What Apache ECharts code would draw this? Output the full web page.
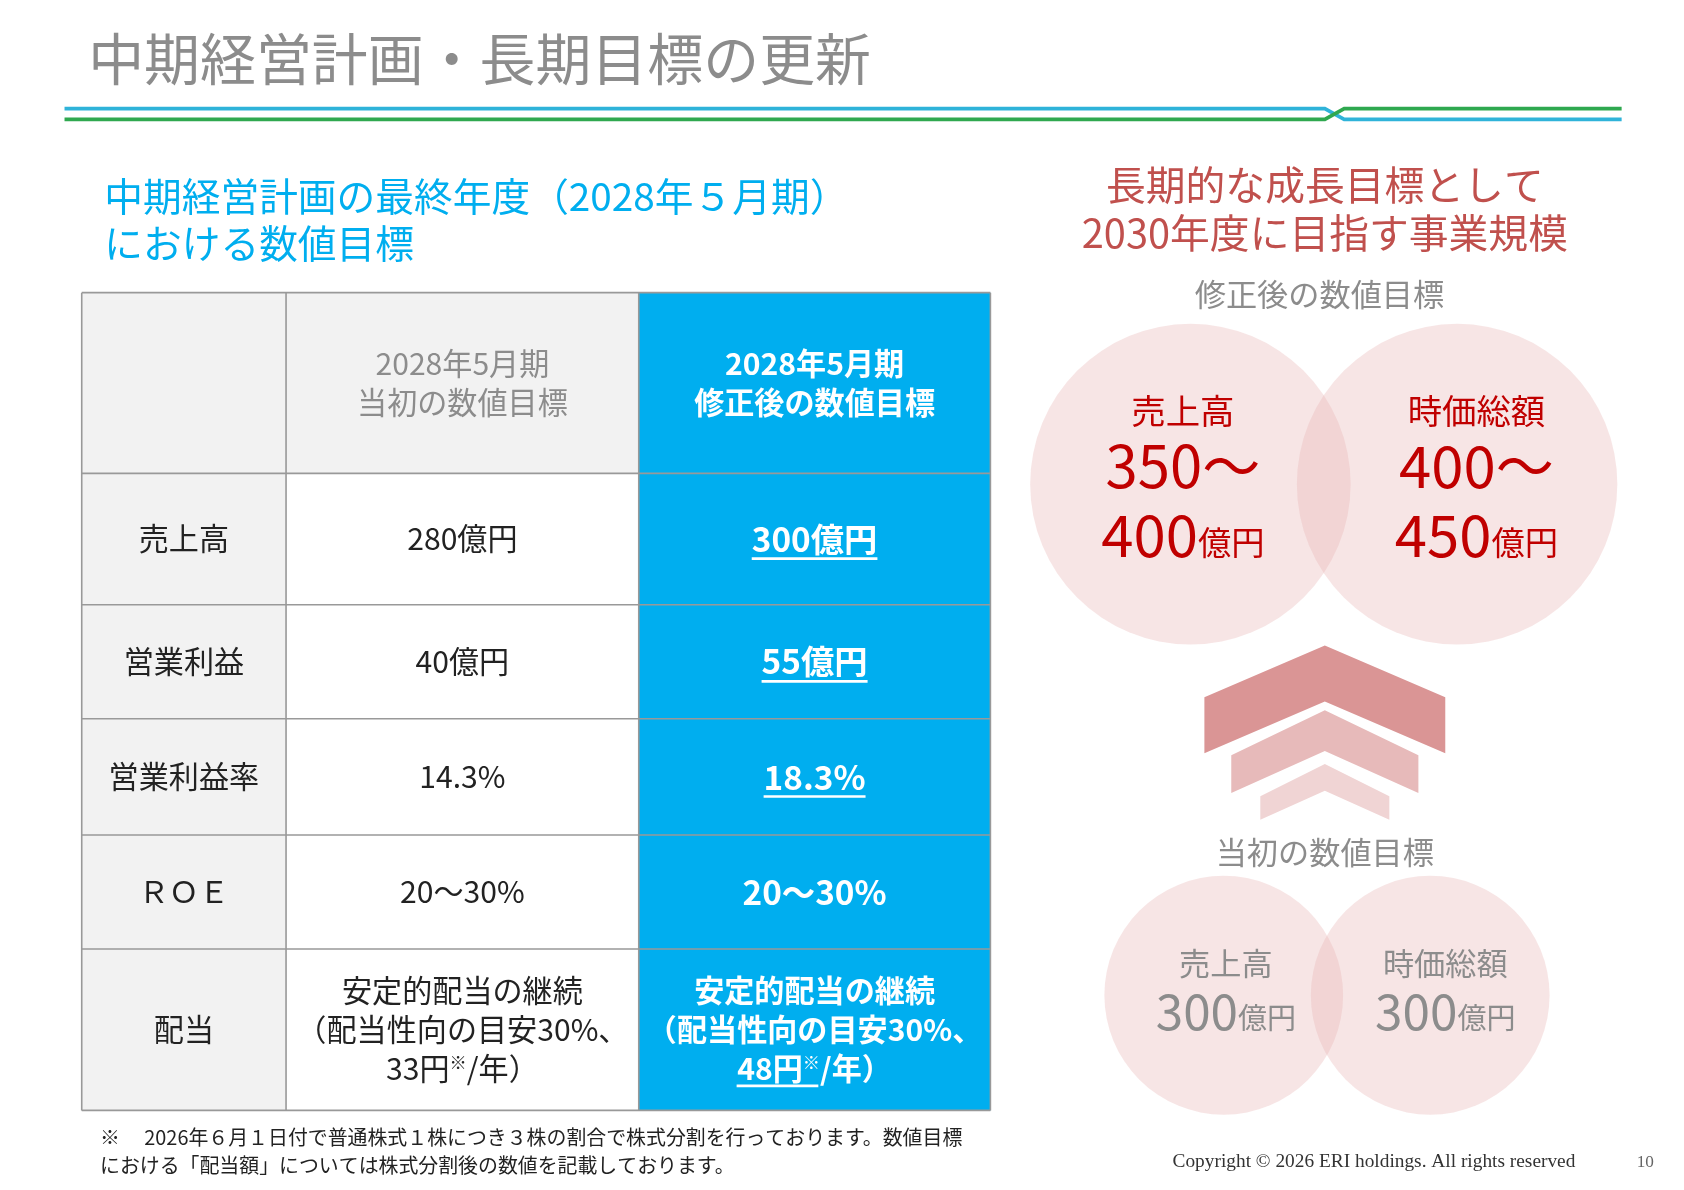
<!DOCTYPE html>
<html><head><meta charset="utf-8">
<script src="https://cdn.jsdelivr.net/npm/echarts@6/dist/echarts.min.js"></script>
<style>html,body{margin:0;padding:0;background:#fff}#c{width:1684px;height:1190px}</style>
</head><body><div id="c"></div>
<script>
// データ
var rowLabels = ['売上高', '営業利益', '営業利益率', 'ＲＯＥ', '配当'];
var initialTargets = ['280億円', '40億円', '14.3%', '20〜30%', ''];
var revisedTargets = ['300億円', '55億円', '18.3%', '20〜30%', ''];
var revisedUnderline = [true, true, true, false, false];
var colHeaders = ['2028年5月期\n当初の数値目標', '2028年5月期\n修正後の数値目標'];
var longTermLabels = ['売上高', '時価総額'];
var longTermFrom = ['350', '400'];
var longTermTo = ['400', '450'];
var initialLabels = ['売上高', '時価総額'];
var initialValues = ['300', '300'];

var F = '"Noto Sans CJK JP", "Noto Sans", sans-serif';
var BLUE = '#00aeef', RED = '#c00000', GRAY = '#8c8c8c', LINE = '#999999';

var cv = document.createElement('canvas').getContext('2d');
function tw(s, size, bold) { cv.font = (bold ? 'bold ' : '') + size + 'px ' + F; return cv.measureText(s).width; }

var colX = [76, 266, 594, 921];
var rowY = [272, 440, 562, 668, 776, 882, 1032];
var els = [];

function txt(x, y, s, size, color, opt) {
  opt = opt || {};
  els.push({ type: 'text', x: x, y: y, style: { text: s, font: (opt.bold ? 'bold ' : '') + size + 'px ' + F,
    fill: color, align: opt.align || 'center', verticalAlign: opt.va || 'middle', lineHeight: opt.lh, rich: opt.rich } });
}
function ul(cx, y, w, color) {
  els.push({ type: 'rect', shape: { x: cx - w / 2, y: y, width: w, height: 2.5 }, style: { fill: color } });
}

// タイトル
txt(82, 55, '中期経営計画・長期目標の更新', 52, GRAY, { align: 'left' });
els.push({ type: 'polyline', shape: { points: [[60, 101], [1232, 101], [1250, 111], [1508, 111]] }, style: { stroke: '#2fb3d9', lineWidth: 3.5, fill: null } });
els.push({ type: 'polyline', shape: { points: [[60, 111], [1232, 111], [1250, 101], [1508, 101]] }, style: { stroke: '#2fa84f', lineWidth: 3.5, fill: null } });

txt(97, 182, '中期経営計画の最終年度（2028年５月期）', 36, BLUE, { align: 'left' });
txt(97, 226, 'における数値目標', 36, BLUE, { align: 'left' });

// 表
els.push({ type: 'rect', shape: { x: colX[0], y: rowY[0], width: colX[1] - colX[0], height: rowY[6] - rowY[0] }, style: { fill: '#f2f2f2' } });
els.push({ type: 'rect', shape: { x: colX[1], y: rowY[0], width: colX[2] - colX[1], height: rowY[1] - rowY[0] }, style: { fill: '#f2f2f2' } });
els.push({ type: 'rect', shape: { x: colX[2], y: rowY[0], width: colX[3] - colX[2], height: rowY[6] - rowY[0] }, style: { fill: BLUE } });
rowY.forEach(function (y) { els.push({ type: 'line', shape: { x1: colX[0], y1: y, x2: colX[3], y2: y }, style: { stroke: LINE, lineWidth: 1.5 } }); });
colX.forEach(function (x) { els.push({ type: 'line', shape: { x1: x, y1: rowY[0], x2: x, y2: rowY[6] }, style: { stroke: LINE, lineWidth: 1.5 } }); });

var mid1 = (colX[1] + colX[2]) / 2, mid2 = (colX[2] + colX[3]) / 2, mid0 = (colX[0] + colX[1]) / 2;
txt(mid1, 356, colHeaders[0], 28, GRAY, { lh: 36 });
txt(mid2, 356, colHeaders[1], 28, '#fff', { lh: 36, bold: true });

rowLabels.forEach(function (lab, i) {
  var cy = (rowY[i + 1] + rowY[i + 2]) / 2;
  txt(mid0, cy, lab, 28, '#222');
  if (initialTargets[i]) txt(mid1, cy, initialTargets[i], 28, '#222');
  if (revisedTargets[i]) {
    txt(mid2, cy, revisedTargets[i], 31, '#fff', { bold: true });
    if (revisedUnderline[i]) ul(mid2, cy + 17, tw(revisedTargets[i], 31, true), '#fff');
  }
});
// 配当
txt(mid1, 957, '安定的配当の継続\n（配当性向の目安30%、\n{n|33円}{s|※}{n|/年）}', 28, '#222',
  { lh: 36, rich: { n: { font: '28px ' + F, fill: '#222' }, s: { font: '16px ' + F, fill: '#222', padding: [0, 0, 12, 0] } } });
txt(mid2, 957, '安定的配当の継続\n（配当性向の目安30%、\n{n|48円}{s|※}{n|/年）}', 28, '#fff',
  { bold: true, lh: 36, rich: { n: { font: 'bold 28px ' + F, fill: '#fff' }, s: { font: 'bold 16px ' + F, fill: '#fff', padding: [0, 0, 12, 0] } } });
ul(723, 1008, 76, '#fff');

txt(93, 1057, '※　 2026年６月１日付で普通株式１株につき３株の割合で株式分割を行っております。数値目標', 18.5, '#222', { align: 'left' });
txt(93, 1083, 'における「配当額」については株式分割後の数値を記載しております。', 18.5, '#222', { align: 'left' });

// 右側
txt(1232, 172, '長期的な成長目標として', 37, '#c0504d');
txt(1232, 216, '2030年度に目指す事業規模', 37, '#c0504d');
txt(1227, 273, '修正後の数値目標', 29, GRAY);

var bigC = [[1107, 450], [1355, 450]];
bigC.forEach(function (c) { els.push({ type: 'circle', shape: { cx: c[0], cy: c[1], r: 149 }, style: { fill: 'rgba(232,180,180,0.35)' } }); });
longTermLabels.forEach(function (lab, i) {
  var cx = [1100, 1373][i];
  txt(cx, 382, lab, 32, RED);
  txt(cx, 433, longTermFrom[i] + '〜', 54, RED);
  txt(cx, 497, '{b|' + longTermTo[i] + '}{u|億円}', 54, RED, { rich: { b: { font: '54px ' + F, fill: RED }, u: { font: '31px ' + F, fill: RED, padding: [14, 0, 0, 0] } } });
});

els.push({ type: 'polygon', shape: { points: [[1120, 648], [1232, 600], [1344, 648], [1344, 700], [1232, 652], [1120, 700]] }, style: { fill: '#da9595' } });
els.push({ type: 'polygon', shape: { points: [[1145, 702], [1232, 660], [1319, 702], [1319, 737], [1232, 698], [1145, 737]] }, style: { fill: '#e7baba' } });
els.push({ type: 'polygon', shape: { points: [[1172, 740], [1232, 710], [1292, 740], [1292, 762], [1232, 735], [1172, 762]] }, style: { fill: '#f0d4d4' } });

txt(1232, 792, '当初の数値目標', 29, GRAY);
var smC = [[1138, 925], [1330, 925]];
smC.forEach(function (c) { els.push({ type: 'circle', shape: { cx: c[0], cy: c[1], r: 111 }, style: { fill: 'rgba(232,180,180,0.35)' } }); });
initialLabels.forEach(function (lab, i) {
  var cx = [1140, 1344][i];
  txt(cx, 895, lab, 29, GRAY);
  txt(cx, 940, '{b|' + initialValues[i] + '}{u|億円}', 46, GRAY, { rich: { b: { font: '46px ' + F, fill: GRAY }, u: { font: '27px ' + F, fill: GRAY, padding: [12, 0, 0, 0] } } });
});

els.push({ type: 'text', x: 1465, y: 1080, style: { text: 'Copyright © 2026 ERI holdings. All rights reserved', font: '18px "Liberation Serif", serif', fill: '#333', align: 'right', verticalAlign: 'middle' } });
els.push({ type: 'text', x: 1530, y: 1080, style: { text: '10', font: '16px "Liberation Serif", serif', fill: '#666', align: 'center', verticalAlign: 'middle' } });

var chart = echarts.init(document.getElementById('c'));
chart.setOption({
  backgroundColor: '#fff',
  graphic: [{ type: 'group', scaleX: 1684 / 1566, scaleY: 1190 / 1106, children: els }]
});
</script></body></html>
